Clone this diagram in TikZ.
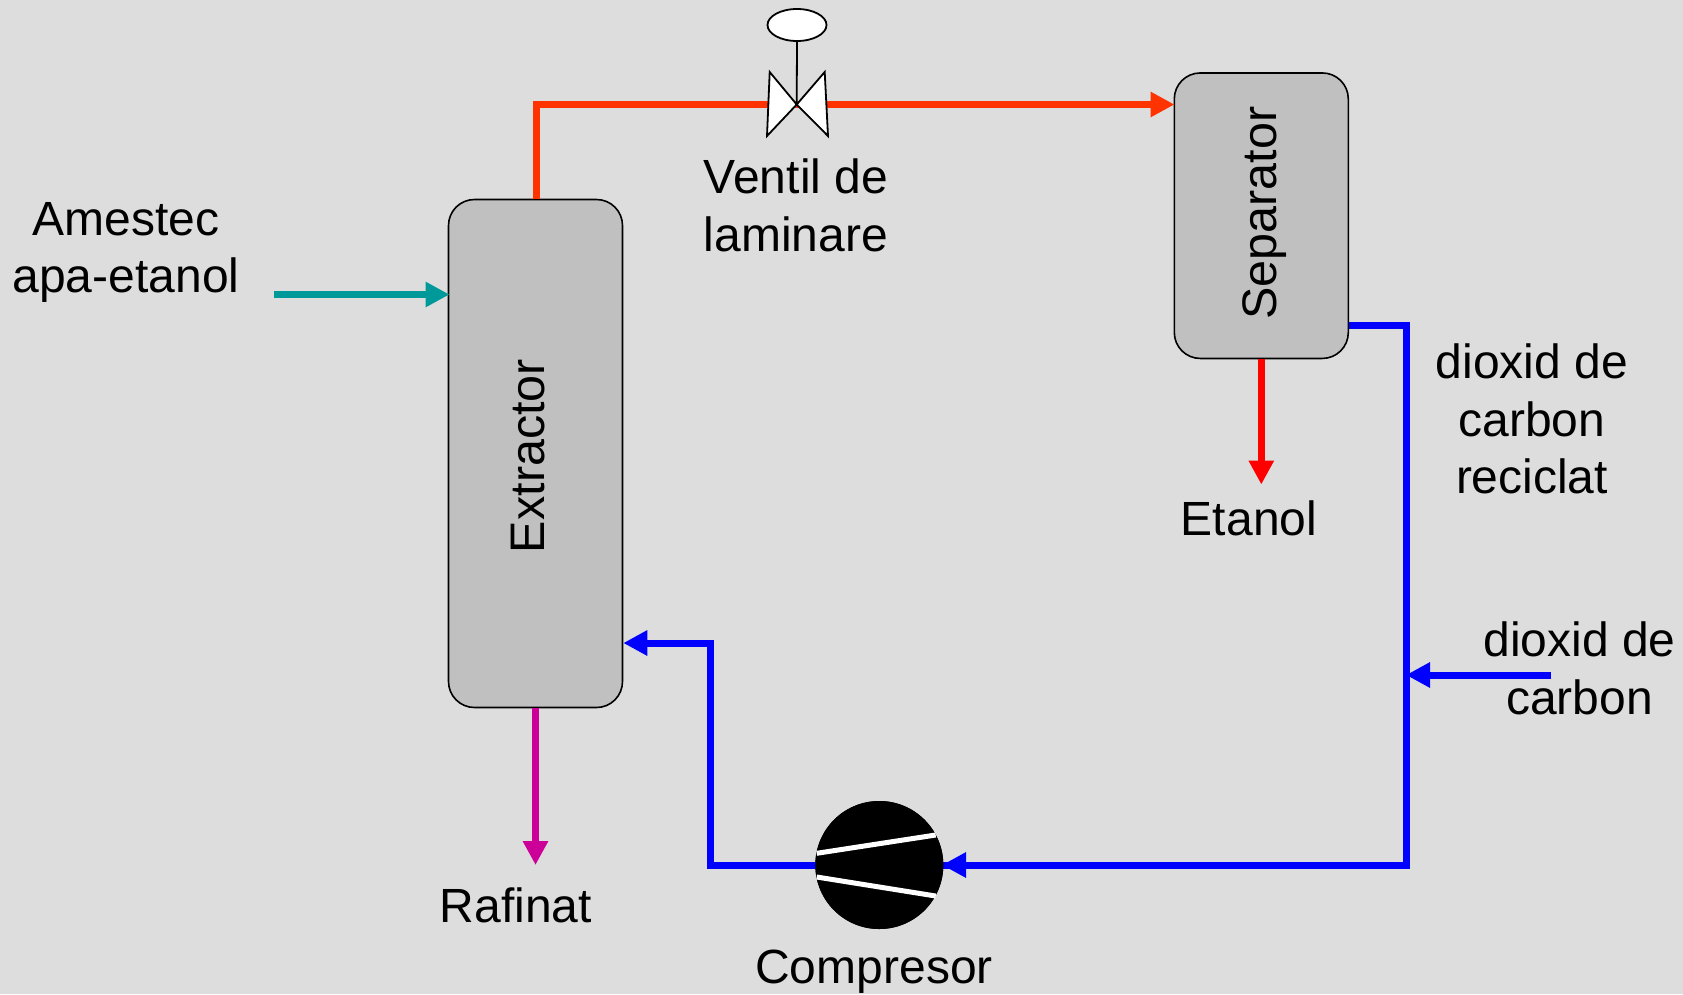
\documentclass[tikz,border=0pt]{standalone}
\usepackage{fontspec}
\setmainfont{Liberation Sans}
\usetikzlibrary{arrows.meta,shapes.geometric}
\definecolor{bgc}{HTML}{DDDDDD}
\definecolor{boxc}{HTML}{C0C0C0}
\definecolor{orangec}{HTML}{FF3300}
\definecolor{tealc}{HTML}{009999}
\definecolor{magc}{HTML}{CC0099}
\begin{document}
\begin{tikzpicture}[x=1pt,y=-1pt,
  vessel/.style={draw=black,line width=1.6pt,fill=boxc,rounded corners=26pt,inner sep=0pt,minimum width=174pt},
  vesseltext/.style={font=\fontsize{48.5}{50}\selectfont,inner sep=0pt,rotate=90},
  lbl/.style={font=\fontsize{48}{57.5}\selectfont,align=center,text=black,inner sep=0pt},
  pipe/.style={line width=7pt,line join=miter},
  arr/.style={pipe,-{Triangle[length=24pt,width=24pt]}},
  valvepart/.style={draw=black,line width=1.8pt,fill=white,line join=miter}]
\path[use as bounding box,fill=bgc] (0,0) rectangle (1683,994);
% vessels
\node[vessel,minimum height=508pt] (ext) at (535.5,453.5) {};
\node[vessel,minimum height=285.5pt] (sep) at (1261.3,215.7) {};
\node[vesseltext] (exttext) at (528,456) {Extractor};
\node[vesseltext] (septext) at (1265,213) {Separator};
% free ends and bends
\coordinate (tealstart) at (274,294.5);
\coordinate (tealend) at (449.5,294.5);
\coordinate (bend1) at (536.5,104.5);
\coordinate (sepin) at (1174.5,104.5);
\coordinate (redend) at (1261.3,484.5);
\coordinate (magend) at (535.5,865);
\coordinate (sepout) at (sep.east |- 0,325);
\coordinate (blue1) at (1406,325);
\coordinate (blue2) at (1406,865);
\coordinate (blue3) at (710.5,865);
\coordinate (blue4) at (710.5,643);
\coordinate (extin) at (ext.east |- blue4);
\coordinate (co2start) at (1551,675);
\coordinate (co2end) at (1406,675);
% valve
\coordinate (vc) at (796.7,104.5);
\node[draw=black,line width=1.8pt,fill=white,ellipse,minimum width=59pt,minimum height=32pt,inner sep=0pt] (valvetop) at (797,25) {};
% compressor
\node[circle,fill=black,minimum size=128pt,inner sep=0pt] (comp) at (879.3,865) {};
\coordinate (compin) at (942,865);
% pipes
\draw[pipe,orangec] (ext.north -| bend1) -- (bend1) -- (vc);
\draw[arr,orangec] (vc) -- (sepin);
\draw[arr,tealc] (tealstart) -- (tealend);
\draw[arr,red] (sep.south) -- (redend);
\draw[arr,magc] (ext.south) -- (magend);
\draw[pipe,blue] (sepout) -- (blue1) -- (blue2) -- (blue3);
\draw[arr,blue] (blue2) -- (compin);
\draw[arr,blue] (comp.west) -- (blue3) -- (blue4) -- (extin);
\draw[arr,blue] (co2start) -- (co2end);
% redraw compressor over the pipe
\node[circle,fill=black,minimum size=128pt,inner sep=0pt] at (comp) {};
\draw[white,line width=5pt] (816.7,853.3) -- (935.7,835);
\draw[white,line width=5pt] (816.7,877) -- (935.7,896);
% valve body
\draw[valvepart] (vc) -- (769.7,72) -- (767,136) -- cycle;
\draw[valvepart] (vc) -- (824.7,72) -- (828,136) -- cycle;
\draw[black,line width=1.8pt] (valvetop.south) -- (vc);
% labels
\node[lbl] (l1) at (126,252.5) {Amestec\\apa-etanol};
\node[lbl] (l2) at (796,205.5) {Ventil de\\laminare};
\node[lbl] (l3) at (1249,518) {Etanol};
\node[lbl] (l4) at (1532,419) {dioxid de\\carbon\\reciclat};
\node[lbl] (l5) at (1579.5,668.5) {dioxid de\\carbon};
\node[lbl] (l6) at (516,905) {Rafinat};
\node[lbl] (l7) at (874,972) {Compresor};
\end{tikzpicture}
\end{document}
